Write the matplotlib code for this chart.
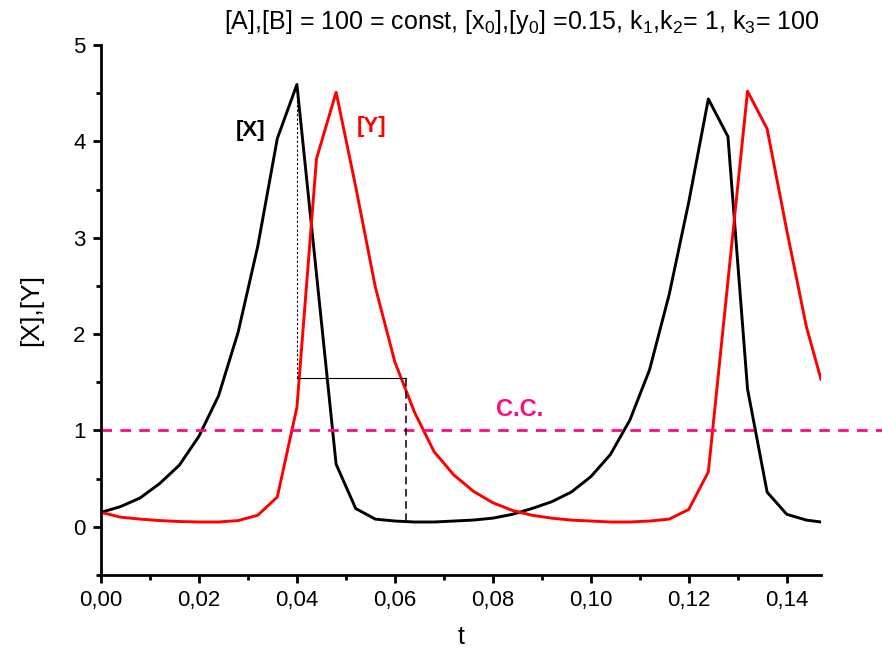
import numpy as np
import matplotlib
matplotlib.use("Agg")
import matplotlib.pyplot as plt
from matplotlib.ticker import MultipleLocator, FuncFormatter

plt.rcParams.update({"font.family": "Liberation Sans", "mathtext.fontset": "custom",
                     "mathtext.rm": "Liberation Sans", "mathtext.it": "Liberation Sans",
                     "mathtext.default": "regular"})

# time grid and concentrations
t = [0.000, 0.004, 0.008, 0.012, 0.016, 0.020, 0.024, 0.028, 0.032, 0.036,
     0.040, 0.044, 0.048, 0.052, 0.056, 0.060, 0.064, 0.068, 0.072, 0.076,
     0.080, 0.084, 0.088, 0.092, 0.096, 0.100, 0.104, 0.108, 0.112, 0.116,
     0.120, 0.124, 0.128, 0.132, 0.136, 0.140, 0.144, 0.147]
x_conc = [0.15, 0.21, 0.30, 0.45, 0.64, 0.94, 1.36, 2.02, 2.91, 4.03,
          4.59, 2.62, 0.65, 0.19, 0.08, 0.06, 0.05, 0.05, 0.06, 0.07,
          0.09, 0.13, 0.19, 0.26, 0.36, 0.52, 0.75, 1.11, 1.63, 2.41,
          3.37, 4.44, 4.05, 1.43, 0.36, 0.13, 0.07, 0.05]
y_conc = [0.15, 0.10, 0.08, 0.065, 0.055, 0.05, 0.05, 0.065, 0.12, 0.31,
          1.24, 3.82, 4.51, 3.53, 2.49, 1.71, 1.19, 0.78, 0.54, 0.37,
          0.25, 0.17, 0.12, 0.09, 0.07, 0.06, 0.05, 0.05, 0.06, 0.08,
          0.18, 0.57, 2.55, 4.52, 4.13, 3.08, 2.08, 1.53]

cc_level = 1.0
# period guide: peak of X, level of the bracket, end time, foot
guide_t = [0.040, 0.0622]
guide_top = 4.59
guide_level = 1.54
guide_foot = 0.06

pink = "#ff0a80"
fig = plt.figure(figsize=(8.82, 6.52), dpi=100)
ax = fig.add_axes([101/882, 1-575/652, 720/882, 530/652])

ax.plot(t, x_conc, color="black", lw=2.1)
ax.plot(t, y_conc, color="#ff0000", lw=2.1)
l, = ax.plot([0, 0.16], [cc_level, cc_level], color=pink, lw=2.0, clip_on=False)
l.set_dashes((3.8, 3.0))

ax.plot([guide_t[0], guide_t[0]], [guide_level, guide_top], color="black", lw=0.8, dashes=(2, 2))
ax.plot(guide_t, [guide_level, guide_level], color="black", lw=0.8)
ax.plot([guide_t[1], guide_t[1]], [guide_foot, guide_level], color="black", lw=1.1, dashes=(5, 3))

ax.text(0.0306, 4.11, "[X]", fontsize=16, fontweight="bold", color="black", ha="center", va="center")
ax.text(0.0553, 4.15, "[Y]", fontsize=16, fontweight="bold", color="#ff0000", ha="center", va="center")
ax.text(0.0855, 1.22, "C.C.", fontsize=17, fontweight="bold", color=pink, ha="center", va="center")

ax.set_xlim(0, 0.147); ax.set_ylim(-0.5, 5)
ax.xaxis.set_major_locator(MultipleLocator(0.02)); ax.xaxis.set_minor_locator(MultipleLocator(0.01))
ax.yaxis.set_major_locator(MultipleLocator(1)); ax.yaxis.set_minor_locator(MultipleLocator(0.5))
ax.xaxis.set_major_formatter(FuncFormatter(lambda v, p: f"{v:.2f}".replace(".", ",")))
ax.yaxis.set_major_formatter(FuncFormatter(lambda v, p: f"{v:.0f}"))
for s in ["top", "right"]: ax.spines[s].set_visible(False)
for s in ["left", "bottom"]: ax.spines[s].set_linewidth(2.0)
ax.tick_params(which="major", direction="out", length=6, width=2.0, labelsize=16, pad=5)
ax.tick_params(which="minor", direction="out", length=3.5, width=2.0)
ax.set_xlabel("t", fontsize=18, labelpad=10)
ax.set_ylabel("[X],[Y]", fontsize=19, labelpad=22)

fig.text(820/882, 1-22/652, "[A],[B] = 100 = const, [x$_0$],[y$_0$] =0.15, k$_1$,k$_2$= 1, k$_3$= 100",
         fontsize=18, ha="right", va="center")

fig.savefig("out.png", dpi=100)
